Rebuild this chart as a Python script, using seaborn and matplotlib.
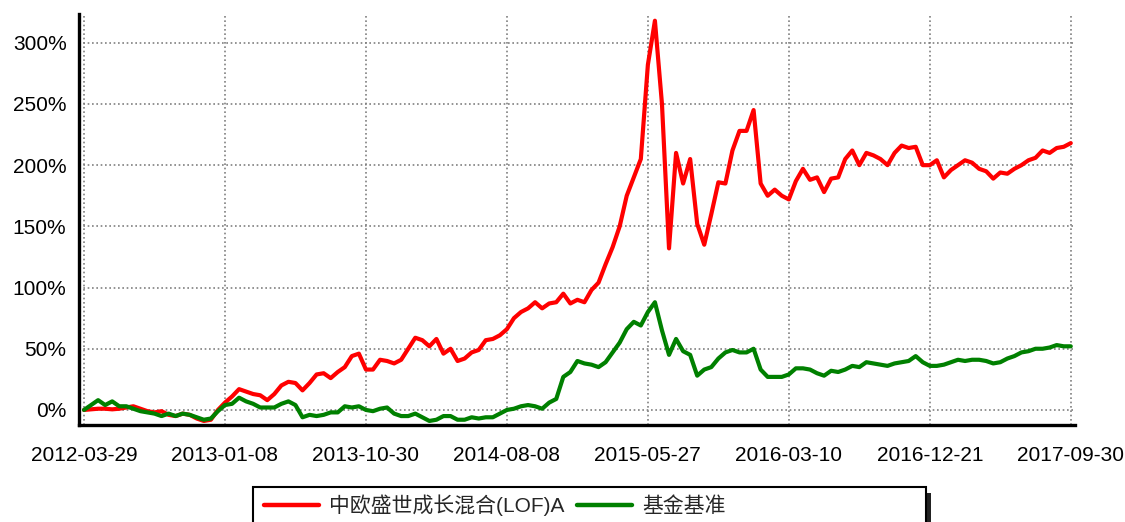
import matplotlib
matplotlib.use('Agg')
import numpy as np
import pandas as pd
import matplotlib.pyplot as plt
import seaborn as sns
from matplotlib.ticker import MultipleLocator, FuncFormatter
from matplotlib.patches import Rectangle
from matplotlib.lines import Line2D

# tick labels on the date axis (evenly spaced, trading-day index)
date_labels = ["2012-03-29", "2013-01-08", "2013-10-30", "2014-08-08",
               "2015-05-27", "2016-03-10", "2016-12-21", "2017-09-30"]

fund_name = "中欧盛世成长混合(LOF)A"
bench_name = "基金基准"

# cumulative return (%), 20 samples per label interval
fund = [0, 0.5, 1, 1, 0.5, 1, 2, 3, 1, -1, -2, -1, -4, -5, -3, -4, -7, -9, -8, 0, 6,
        11, 17, 15, 13, 12, 8, 13, 20, 23, 22, 16, 22, 29, 30, 26, 31, 35, 44, 46, 33,
        33, 41, 40, 38, 41, 50, 59, 57, 52, 58, 46, 50, 40, 42, 47, 49, 57, 58, 61, 66,
        75, 80, 83, 88, 83, 87, 88, 95, 87, 90, 88, 98, 104, 119, 133, 150, 175, 190, 205, 282,
        318, 250, 132, 210, 185, 205, 152, 135, 160, 186, 185, 212, 228, 228, 245, 185, 175, 180, 175, 172,
        187, 197, 188, 190, 178, 189, 190, 205, 212, 200, 210, 208, 205, 200, 210, 216, 214, 215, 200, 200,
        204, 190, 196, 200, 204, 202, 197, 195, 189, 194, 193, 197, 200, 204, 206, 212, 210, 214, 215, 218]

bench = [0, 4, 8, 4, 7, 3, 3, 1, -1, -2, -3, -5, -3, -5, -3, -4, -6, -8, -7, -1, 4,
         5, 10, 7, 5, 2, 2, 2, 5, 7, 4, -6, -4, -5, -4, -2, -2, 3, 2, 3, 0,
         -1, 1, 2, -3, -5, -5, -3, -6, -9, -8, -5, -5, -8, -8, -6, -7, -6, -6, -3, 0,
         1, 3, 4, 3, 1, 6, 9, 27, 31, 40, 38, 37, 35, 39, 47, 55, 66, 72, 69, 80,
         88, 65, 45, 58, 48, 45, 28, 33, 35, 42, 47, 49, 47, 47, 50, 33, 27, 27, 27, 29,
         34, 34, 33, 30, 28, 32, 31, 33, 36, 35, 39, 38, 37, 36, 38, 39, 40, 44, 39, 36,
         36, 37, 39, 41, 40, 41, 41, 40, 38, 39, 42, 44, 47, 48, 50, 50, 51, 53, 52, 52]

colors = {fund_name: "#ff0000", bench_name: "#008000"}

n = len(fund)
df = pd.DataFrame({
    "idx": list(range(n)) * 2,
    "ret": fund + bench,
    "series": [fund_name] * n + [bench_name] * n,
})

sns.set_style("white")
plt.rcParams['font.family'] = ['Liberation Sans', 'Noto Sans CJK SC', 'DejaVu Sans']

fig = plt.figure(figsize=(11.25, 5.22), dpi=100)
ax = fig.add_axes([79 / 1125, 1 - 425 / 522, (1075 - 79) / 1125, (425 - 14) / 522])

sns.lineplot(data=df, x="idx", y="ret", hue="series", palette=colors,
             hue_order=[fund_name, bench_name], linewidth=3.0, ax=ax, legend=False)

step = (n - 1) / (len(date_labels) - 1)
ax.set_xticks([i * step for i in range(len(date_labels))])
ax.set_xticklabels(date_labels)
ax.xaxis.set_minor_locator(MultipleLocator(step / 5))
ax.set_yticks([0, 50, 100, 150, 200, 250, 300])
ax.yaxis.set_major_formatter(FuncFormatter(lambda v, p: f"{v:.0f}%"))
ax.yaxis.set_minor_locator(MultipleLocator(12.5))
ax.set_xlim(-0.71, n - 1 + 0.6)
ax.set_ylim(-12.3, 323.5)
ax.set_xlabel("")
ax.set_ylabel("")

ax.grid(True, which="major", color="#808080", linestyle=(0, (1, 1.6)), linewidth=1.2)
for s in ["top", "right"]:
    ax.spines[s].set_visible(False)
for s in ["left", "bottom"]:
    ax.spines[s].set_color("black")
    ax.spines[s].set_linewidth(2.4)

ax.tick_params(axis="both", which="major", labelsize=15, colors="#666666",
               labelcolor="black", direction="out", width=1.2)
ax.tick_params(axis="x", which="major", length=8, pad=7)
ax.tick_params(axis="y", which="major", length=5, pad=4)
ax.tick_params(axis="both", which="minor", direction="out", colors="#666666", width=1.2, length=4)
ax.tick_params(axis="y", which="minor", length=3)

# legend box with dark shadow, partially cut by the figure edge
box_l, box_r, box_t, box_b = 253.3, 925.7, 487.3, 540
fig.patches.append(Rectangle((box_l / 1125 + 5 / 1125, 1 - (box_b + 6) / 522),
                             (box_r - box_l) / 1125, (box_b - box_t) / 522,
                             transform=fig.transFigure, facecolor="#222222",
                             edgecolor="none", zorder=1))
fig.patches.append(Rectangle((box_l / 1125, 1 - box_b / 522),
                             (box_r - box_l) / 1125, (box_b - box_t) / 522,
                             transform=fig.transFigure, facecolor="white",
                             edgecolor="black", linewidth=1.5, zorder=2))

handles = [Line2D([], [], color=colors[fund_name], linewidth=3.2),
           Line2D([], [], color=colors[bench_name], linewidth=3.2)]
leg = fig.legend(handles, [fund_name, bench_name], loc="center left",
                 bbox_to_anchor=(264 / 1125, 1 - 505 / 522), ncol=2, frameon=False,
                 fontsize=15, handlelength=2.64, handletextpad=0.5, columnspacing=0.6,
                 borderpad=0, borderaxespad=0)
leg.set_zorder(3)

fig.savefig("out.png", dpi=100)
